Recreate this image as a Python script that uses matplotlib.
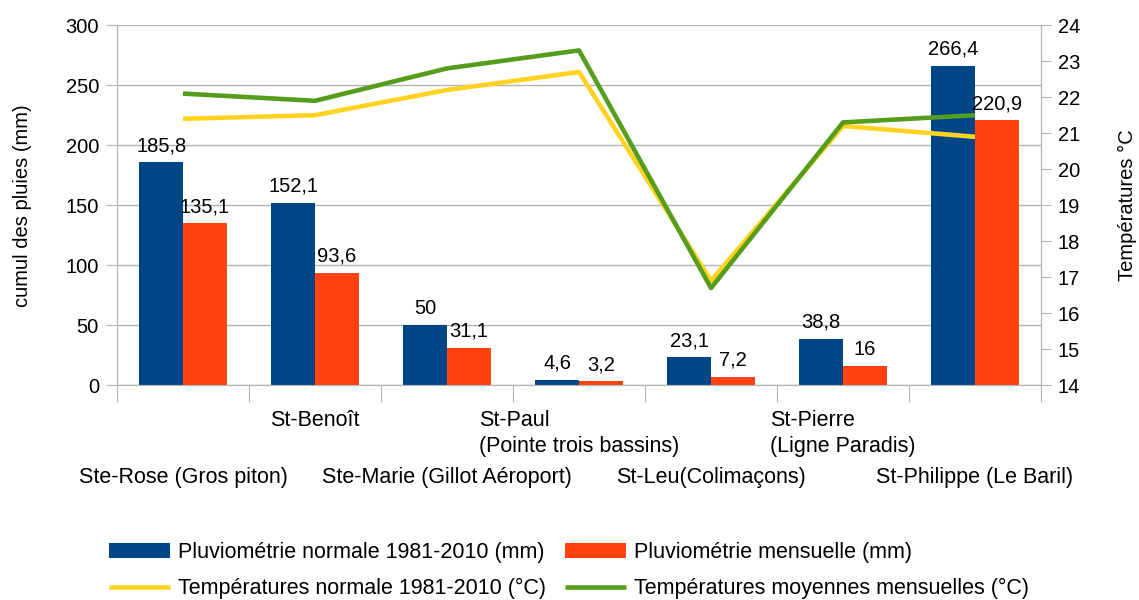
import matplotlib.pyplot as plt
import numpy as np

plt.rcParams['font.family'] = ['Liberation Sans', 'DejaVu Sans']

# Data
stations = ['Ste-Rose (Gros piton)', 'St-Benoît', 'Ste-Marie (Gillot Aéroport)',
            'St-Paul\n(Pointe trois bassins)', 'St-Leu(Colimaçons)',
            'St-Pierre\n(Ligne Paradis)', 'St-Philippe (Le Baril)']
pluie_normale = [185.8, 152.1, 50, 4.6, 23.1, 38.8, 266.4]
pluie_mensuelle = [135.1, 93.6, 31.1, 3.2, 7.2, 16, 220.9]
temp_normale = [21.4, 21.5, 22.2, 22.7, 16.9, 21.2, 20.9]
temp_mensuelle = [22.1, 21.9, 22.8, 23.3, 16.7, 21.3, 21.5]

blue = '#004586'
orange = '#ff420e'
yellow = '#ffd320'
green = '#579d1c'
grey = '#b3b3b3'
fs = 14.5
fs_cat = 15.5

fig = plt.figure(figsize=(11.39, 6), dpi=100)
ax = fig.add_axes([0.1027, 0.358, 0.8113, 0.6])
ax2 = ax.twinx()

x = np.arange(len(stations))
w = 0.33
b1 = ax.bar(x - w / 2, pluie_normale, w, color=blue, zorder=2,
            label='Pluviométrie normale 1981-2010 (mm)')
b2 = ax.bar(x + w / 2, pluie_mensuelle, w, color=orange, zorder=2,
            label='Pluviométrie mensuelle (mm)')

def fmt(v):
    return f'{v:g}'.replace('.', ',')

for bars, vals in ((b1, pluie_normale), (b2, pluie_mensuelle)):
    for r, v in zip(bars, vals):
        ax2.annotate(fmt(v), (r.get_x() + r.get_width() / 2, v / 300 * 10 + 14),
                     xytext=(0, 5), textcoords='offset points',
                     ha='center', va='bottom', fontsize=fs, zorder=5)

l1, = ax2.plot(x, temp_normale, color=yellow, lw=3.3, solid_capstyle='butt',
               label='Températures normale 1981-2010 (°C)')
l2, = ax2.plot(x, temp_mensuelle, color=green, lw=3.3, solid_capstyle='butt',
               label='Températures moyennes mensuelles (°C)')

ax.set_xlim(-0.5, len(stations) - 0.5)
ax.set_ylim(0, 300)
ax.set_yticks(range(0, 301, 50))
ax2.set_ylim(14, 24)
ax2.set_yticks(range(14, 25))

ax.grid(axis='y', color=grey, lw=1, zorder=0)
ax.set_axisbelow(True)
for a in (ax, ax2):
    for s in a.spines.values():
        s.set_color(grey)
    a.spines['top'].set_visible(False)
ax.tick_params(axis='y', direction='out', length=8, color=grey, labelsize=fs, pad=5)
ax2.tick_params(axis='y', direction='out', length=7, color=grey, labelsize=fs, pad=5)

# category boundary ticks
ax.set_xticks(np.arange(-0.5, len(stations)))
ax.set_xticklabels([])
ax.tick_params(axis='x', direction='out', length=12, color=grey)

# staggered category labels
for i, name in enumerate(stations):
    y = -0.228 if i % 2 == 0 else -0.068
    ax.text(i, y, name, transform=ax.get_xaxis_transform(), ha='center', va='top',
            multialignment='left', fontsize=fs_cat, linespacing=1.35)

ax.set_ylabel('cumul des pluies (mm)', fontsize=fs, labelpad=24)
ax2.set_ylabel('Températures °C', fontsize=fs, labelpad=27)

fig.legend(handles=[b1, l1, b2, l2], ncol=2, loc='center',
           bbox_to_anchor=(0.4995, 0.049), frameon=False, fontsize=fs_cat,
           handlelength=2.85, handletextpad=0.37, columnspacing=0.85,
           labelspacing=0.72)

plt.savefig('out.png', dpi=100)
